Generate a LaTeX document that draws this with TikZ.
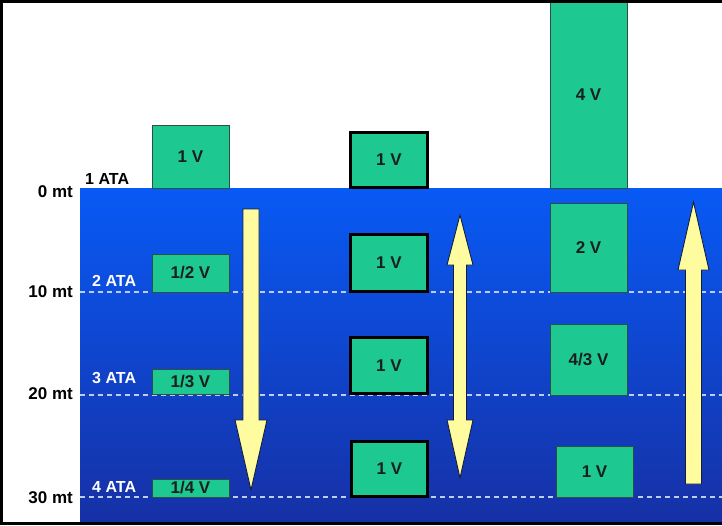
\documentclass[tikz,border=0pt]{standalone}
\usepackage{fontspec}
\setmainfont{Liberation Sans}
\definecolor{boxgreen}{RGB}{30,200,145}
\definecolor{boxline}{RGB}{45,80,70}
\definecolor{boxtext}{RGB}{25,30,30}
\definecolor{seatop}{RGB}{8,90,245}
\definecolor{seabottom}{RGB}{22,48,165}
\definecolor{dashcol}{RGB}{190,205,245}
\definecolor{arrowfill}{RGB}{255,252,160}
\definecolor{arrowline}{RGB}{20,30,60}
\begin{document}
\begin{tikzpicture}[x=1pt,y=-1pt,
  vol/.style={draw=boxline, line width=0.9pt, fill=boxgreen, inner sep=0pt,
    minimum width=77pt, font=\bfseries\fontsize{17}{17}\selectfont, text=boxtext},
  volthick/.style={vol, draw=black, line width=3pt},
  depth/.style={font=\bfseries\fontsize{17}{17}\selectfont, anchor=east, inner sep=0pt},
  ata/.style={font=\bfseries\fontsize{16}{16}\selectfont, anchor=west, inner sep=0pt},
  level/.style={draw=dashcol, line width=1.3pt, dash pattern=on 5pt off 4pt},
  flow/.style={fill=arrowfill, draw=arrowline, line width=0.9pt, line join=miter}]
\useasboundingbox (0,0) rectangle (722,525);

% water body
\shade[top color=seatop, bottom color=seabottom] (80,188) rectangle (722,522);

% depth levels
\coordinate (l10a) at (80,292);  \coordinate (l10b) at (722,292);
\coordinate (l20a) at (80,395);  \coordinate (l20b) at (722,395);
\coordinate (l30a) at (80,497);  \coordinate (l30b) at (722,497);
\draw[level] (l10a) -- (l10b);
\draw[level] (l20a) -- (l20b);
\draw[level] (l30a) -- (l30b);

% depth labels
\node[depth] (d0)  at (73,192)   {0 mt};
\node[depth] (d10) at (73,292)   {10 mt};
\node[depth] (d20) at (73,393.5) {20 mt};
\node[depth] (d30) at (73,497.5) {30 mt};

% pressure labels
\node[ata] (p1) at (85,178.5)          {1 ATA};
\node[ata, text=white] (p2) at (92,281) {2 ATA};
\node[ata, text=white] (p3) at (92,378) {3 ATA};
\node[ata, text=white] (p4) at (92,486.5) {4 ATA};

% column 1: volume shrinks with depth
\node[vol, minimum height=63pt] (a1) at (190.5,156.5) {1 V};
\node[vol, minimum height=38pt] (a2) at (190.5,273)   {1/2 V};
\node[vol, minimum height=25pt] (a3) at (190.5,381.5) {1/3 V};
\node[vol, minimum height=18pt] (a4) at (190.5,488)   {1/4 V};

% column 2: rigid volume
\node[volthick, minimum width=77pt, minimum height=55pt] (b1) at (389,160)   {1 V};
\node[volthick, minimum width=77pt, minimum height=57pt] (b2) at (389,263)   {1 V};
\node[volthick, minimum width=77pt, minimum height=56pt] (b3) at (389,365.5) {1 V};
\node[volthick, minimum width=76pt, minimum height=55pt] (b4) at (389.5,469) {1 V};

% column 3: volume grows on ascent
\node[vol, minimum height=187pt] (c1) at (588.5,94.5)  {4 V};
\node[vol, minimum height=89pt]  (c2) at (588.5,247.5) {2 V};
\node[vol, minimum height=71pt]  (c3) at (588.5,359.5) {4/3 V};
\node[vol, minimum height=51pt]  (c4) at (594.5,471.5) {1 V};

% descent arrow
\draw[flow] (243,209) -- (259,209) -- (259,420) -- (267,420) -- (251,490)
  -- (235,420) -- (243,420) -- cycle;

% two-way arrow
\draw[flow] (460,215) -- (473,265) -- (466.5,265) -- (466.5,420) -- (473,420)
  -- (460,478) -- (447,420) -- (453.5,420) -- (453.5,265) -- (447,265) -- cycle;

% ascent arrow
\draw[flow] (693.5,202) -- (709,270) -- (701.5,270) -- (701.5,484) -- (685.5,484)
  -- (685.5,270) -- (678,270) -- cycle;

% frame
\draw[line width=2.5pt] (723,1.25) -- (1.5,1.25) -- (1.5,523.5) -- (723,523.5);
\end{tikzpicture}
\end{document}
